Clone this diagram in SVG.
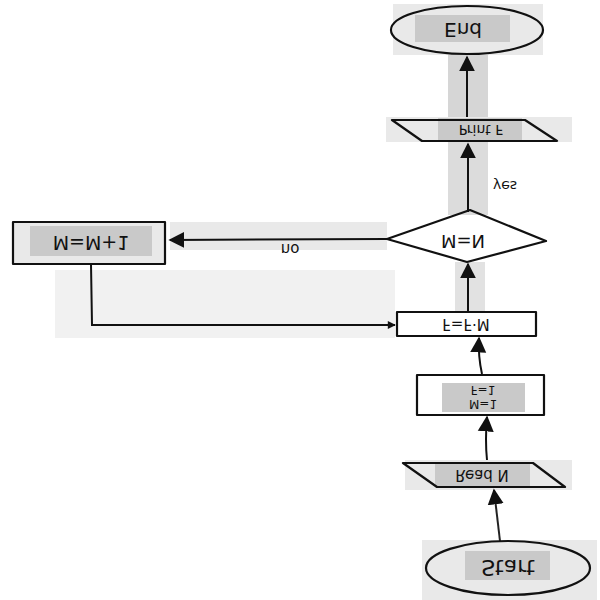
<svg xmlns="http://www.w3.org/2000/svg" width="600" height="600" viewBox="0 0 600 600">
<style>
.bg{fill:#e9e9e9}
.tb{fill:#c9c9c9}
.sh{fill:none;stroke:#111;stroke-width:2.2;stroke-linejoin:round}
.ln{fill:none;stroke:#111;stroke-width:2}
.t{font-family:"DejaVu Sans",sans-serif;fill:#111;text-anchor:middle;dominant-baseline:central}
</style>
<defs>
<marker id="ah" viewBox="0 0 10 10" refX="9" refY="5" markerWidth="10" markerHeight="8" orient="auto" markerUnits="userSpaceOnUse">
<path d="M0,0 L10,5 L0,10 z" fill="#111"/>
</marker>
<marker id="ahb" viewBox="0 0 10 10" refX="9" refY="5" markerWidth="16" markerHeight="18" orient="auto" markerUnits="userSpaceOnUse">
<path d="M0,0 L10,5 L0,10 z" fill="#111"/>
</marker>
</defs>
<rect width="600" height="600" fill="#fff"/>
<rect class="bg" x="393" y="4" width="150" height="51"/>
<rect x="448" y="55" width="40" height="63" fill="#d6d6d6"/>
<rect class="bg" x="386" y="117" width="186" height="25"/>
<rect x="448" y="142" width="40" height="73" fill="#dcdcdc"/>
<rect class="bg" x="170" y="222" width="217" height="28"/>
<rect x="455" y="262" width="30" height="50" fill="#e2e2e2"/>
<rect fill="#f1f1f1" x="55" y="270" width="340" height="68"/>
<rect class="bg" x="405" y="460" width="167" height="30"/>
<rect class="bg" x="422" y="540" width="175" height="60"/>
<g id="connectors">
<line class="ln" x1="467" y1="117" x2="467" y2="57" marker-end="url(#ahb)"/>
<line class="ln" x1="468" y1="212" x2="468" y2="144" marker-end="url(#ahb)"/>
<line class="ln" x1="387" y1="239" x2="170" y2="240" marker-end="url(#ahb)"/>
<path class="ln" d="M91,264 L92,325 L395,325" marker-end="url(#ah)"/>
<line class="ln" x1="468" y1="312" x2="468" y2="264" marker-end="url(#ahb)"/>
<path class="ln" d="M482,374 Q478,356 479,338" marker-end="url(#ahb)"/>
<path class="ln" d="M487,460 Q485,440 487,417" marker-end="url(#ahb)"/>
<line x1="500" y1="541" x2="494" y2="490" stroke="#222" stroke-width="2" marker-end="url(#ahb)"/>
<text class="t" font-size="14" transform="translate(505,186) scale(1,-1)">yes</text>
<text class="t" font-size="15" transform="translate(290,249) scale(1,-1)">no</text>
</g>
<g id="end">
<rect class="tb" x="415" y="15" width="95" height="27"/>
<ellipse class="sh" cx="467" cy="30" rx="76" ry="24"/>
<text class="t" font-size="20" transform="translate(463,30) scale(1,-1)">End</text>
</g>
<g id="print">
<rect class="tb" x="438" y="118" width="84" height="22"/>
<polygon class="sh" points="392,120 525,120 557,141 422,141"/>
<text class="t" font-size="14" transform="translate(481,130) scale(1,-1)">Print F</text>
</g>
<g id="decision">
<polygon class="sh" points="470,210 546,241 467,262 387,239" fill="#fff"/>
<text class="t" font-size="18" transform="translate(463,241) scale(1,-1)">M=N</text>
</g>
<g id="incr">
<rect class="bg" x="12" y="222" width="153" height="42"/>
<rect class="tb" x="30" y="226" width="122" height="30"/>
<rect class="sh" x="13" y="222" width="152" height="42"/>
<text class="t" font-size="19" transform="translate(91,243) scale(1,-1)">M=M+1</text>
</g>
<g id="mult">
<rect class="sh" x="397" y="312" width="139" height="24" fill="#eee"/>
<text class="t" font-size="15" transform="translate(466,324) scale(1,-1)">F=F·M</text>
</g>
<g id="init">
<rect class="sh" x="417" y="375" width="127" height="40" fill="#e6e6e6"/>
<rect class="tb" x="442" y="383" width="83" height="29"/>
<text class="t" font-size="12" transform="translate(483,390) scale(1,-1)">F=1</text>
<text class="t" font-size="12" transform="translate(483,404) scale(1,-1)">M=1</text>
</g>
<g id="read">
<rect class="tb" x="435" y="462" width="95" height="25"/>
<polygon class="sh" points="403,463 533,463 565,487 437,487"/>
<text class="t" font-size="15" transform="translate(482,475) scale(1,-1)">Read N</text>
</g>
<g id="start">
<rect class="tb" x="465" y="551" width="85" height="29"/>
<ellipse class="sh" cx="508" cy="568" rx="82" ry="27"/>
<text class="t" font-size="22" transform="translate(508,567) scale(1,-1)">Start</text>
</g>
</svg>
